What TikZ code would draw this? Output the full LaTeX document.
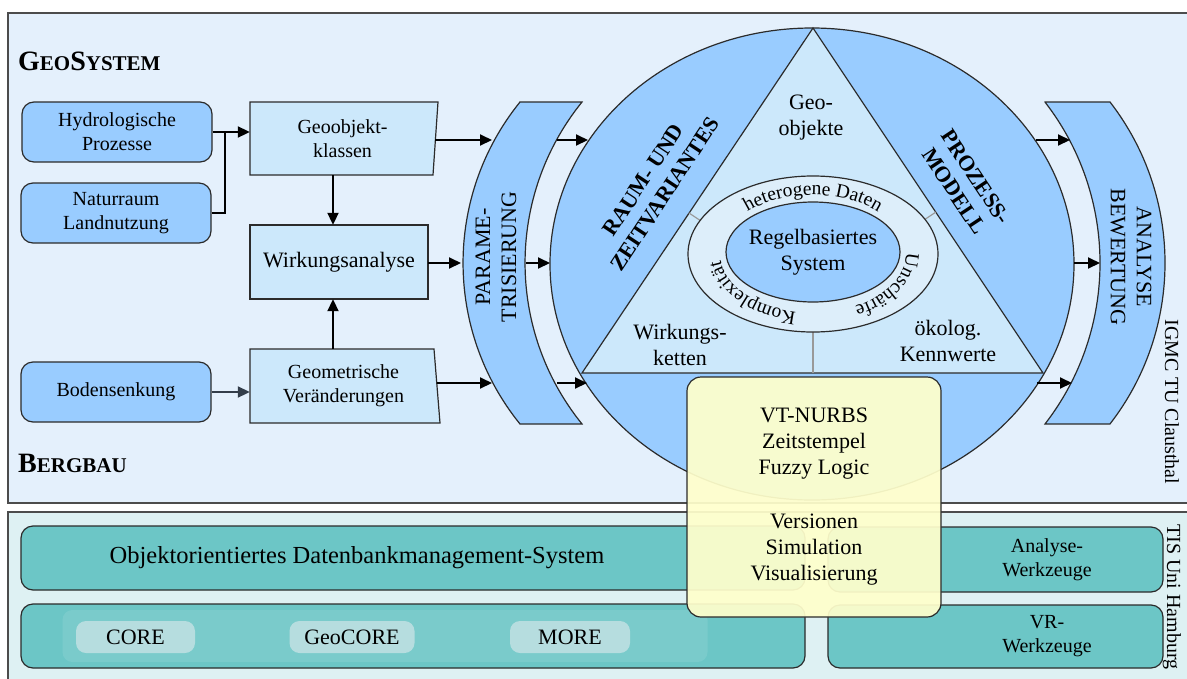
\documentclass[tikz,border=0pt]{standalone}
\usepackage{fontspec}
\setmainfont{Liberation Serif}
\usetikzlibrary{arrows.meta,calc,shapes.geometric,decorations.text}

\definecolor{panelblue}{HTML}{E4F0FC}
\definecolor{panelcyan}{HTML}{DEF1F3}
\definecolor{midblue}{HTML}{99CCFF}
\definecolor{lightblue}{HTML}{CCE8FB}
\definecolor{ringblue}{HTML}{DDEEFA}
\definecolor{dbteal}{HTML}{6CC6C6}
\definecolor{pillteal}{HTML}{B6DDDF}
\definecolor{noteyellow}{HTML}{FFFFCC}
\definecolor{edgegray}{HTML}{2B2B2B}
\definecolor{slate}{HTML}{333D4A}

\newcommand\fsA{\fontsize{20}{24}\selectfont}
\newcommand\fsB{\fontsize{22}{26}\selectfont}
\newcommand\fsC{\fontsize{24.5}{29}\selectfont}
\newcommand\ringfont{\fontsize{19.5}{22}\selectfont}
\newcommand\initcap[1]{{\fontsize{28}{32}\selectfont #1}}

\begin{document}
\begin{tikzpicture}[x=1pt,y=1pt,
  srcbox/.style={draw=edgegray, line width=1.2pt, fill=midblue, rounded corners=12pt,
    minimum width=190pt, minimum height=60pt, align=center, font=\fsA},
  procbg/.style={draw=edgegray, line width=1.2pt, fill=lightblue},
  bandbg/.style={draw=edgegray, line width=1.2pt, fill=midblue},
  proctext/.style={align=center, font=\fsA, inner sep=0pt},
  dbbox/.style={draw=edgegray, line width=1.2pt, fill=dbteal, rounded corners=12pt},
  pill/.style={fill=pillteal, rounded corners=10pt, minimum width=120pt, minimum height=32pt, font=\fsB},
  arr/.style={-{Triangle[length=12pt,width=11pt]}, line width=2pt},
  divline/.style={draw=gray!80, line width=1.2pt},
  ringtext/.style={decorate, decoration={text along path, text align=center, text={|\ringfont|#1}}}
]
\useasboundingbox (0,0) rectangle (1187,-678);
\clip (0,0) rectangle (1187,-678);

% Panels
\draw[draw=gray!60!black, line width=1.5pt, fill=panelblue] (8,-13) rectangle (1200,-503);
\draw[draw=gray!60!black, line width=1.5pt, fill=panelcyan] (8,-512) rectangle (1200,-700);

\node[anchor=base west, inner sep=0pt, font=\bfseries\fontsize{21}{25}\selectfont] (geosys) at (18,-70) {\initcap{G}EO\initcap{S}YSTEM};
\node[anchor=base west, inner sep=0pt, font=\bfseries\fontsize{21}{25}\selectfont] (bergbau) at (18,-472) {\initcap{B}ERGBAU};

% Input processes
\node[srcbox] (hyd) at (117,-132) {Hydrologische\\Prozesse};
\node[srcbox] (nat) at (116,-213) {Naturraum\\Landnutzung};
\node[srcbox] (bod) at (116,-392) {Bodensenkung};

% Processing boxes
\filldraw[procbg] (250,-102) -- (438,-102) -- (433,-175) -- (250,-175) -- cycle;
\filldraw[procbg] (250,-225) rectangle (428,-299);
\filldraw[procbg] (250,-349) -- (434,-349) -- (440,-423) -- (250,-423) -- cycle;
\node[proctext, minimum width=185pt, minimum height=73pt] (geo) at (342.5,-138.5) {Geoobjekt-\\klassen};
\node[proctext, font=\fsB, minimum width=178pt, minimum height=74pt] (wirk) at (339,-262) {Wirkungsanalyse};
\node[proctext, minimum width=187pt, minimum height=74pt] (geom) at (343.5,-386) {Geometrische\\Veränderungen};

\coordinate (jn) at (225,-132);
\draw[arr] (hyd.east) -- (hyd.east -| geo.west);
\draw[line width=2pt] (nat.east) -| (jn);
\draw[arr, slate] (bod.east) -- (bod.east -| geom.west);
\draw[arr] ([xshift=-9.5pt]geo.south) -- ([xshift=-6pt]wirk.north);
\draw[arr] ([xshift=-10.5pt]geom.north) -- ([xshift=-6pt]wirk.south);

% Parametrisation band
\filldraw[bandbg] (520,-102) -- (582,-102) arc[start angle=141.03, end angle=218.97, radius=256]
  -- (520,-424) arc[start angle=218.97, end angle=141.03, radius=256] -- cycle;
\node[rotate=90, font=\fsB, align=center] (param) at (496,-257) {PARAME-\\TRISIERUNG};

% Evaluation band
\filldraw[bandbg] (1045,-102) -- (1110,-102) arc[start angle=37.74, end angle=-37.74, radius=263]
  -- (1045,-424) arc[start angle=-37.74, end angle=37.74, radius=263] -- cycle;
\node[rotate=-90, font=\fsB, align=center] (analyse) at (1131,-257) {ANALYSE\\BEWERTUNG};

% Central model
\node[ellipse, draw=edgegray, line width=1.2pt, fill=midblue, minimum width=524pt, minimum height=472pt] (model) at (812,-264) {};
\filldraw[procbg] (813,-28) -- (582,-373) -- (1043,-373) -- cycle;
\draw[divline] (689,-213) -- (722,-235);
\draw[divline] (936,-212) -- (903,-234);
\draw[divline] (813,-373) -- (813,-320);
\node[ellipse, draw=edgegray, line width=1.2pt, fill=ringblue, minimum width=250pt, minimum height=156pt] (ring) at (813,-254) {};
\node[ellipse, draw=edgegray, line width=1.2pt, fill=midblue, minimum width=174pt, minimum height=100pt] (regel) at (813,-252) {};
\node[proctext, font=\fsB] (regeltxt) at (regel.center) {Regelbasiertes\\System};

\path[ringtext={heterogene Daten}] ($(ring.center)+(160:93 and 59)$) arc[start angle=160, end angle=20, x radius=93, y radius=59];
\path[ringtext={Unschärfe}] ($(ring.center)+(14:93 and 59)$) arc[start angle=14, end angle=-72, x radius=93, y radius=59];
\path[ringtext={Komplexität}] ($(ring.center)+(-88:93 and 59)$) arc[start angle=-88, end angle=-193, x radius=93, y radius=59];

\node[proctext, font=\fsB] (geoobj) at (811,-118) {Geo-\\objekte};
\node[proctext, font=\fsB] (wketten) at (680,-345) {Wirkungs-\\ketten};
\node[proctext, font=\fsB] (oekolog) at (948,-341) {ökolog.\\Kennwerte};
\node[font=\bfseries\fsB, align=center, rotate=56.5] (raum) at (654,-187) {RAUM- UND\\ZEITVARIANTES};
\node[font=\bfseries\fsB, align=center, rotate=-56.5] (prozess) at (965,-184) {PROZESS-\\MODELL};

% Arrows into and out of the model
\coordinate (pa1) at (492,-140);
\coordinate (pa2) at (461,-263);
\coordinate (pa3) at (492,-383);
\draw[arr] (geo.east |- pa1) -- (pa1);
\draw[arr] (wirk.east |- pa2) -- (pa2);
\draw[arr] (geom.east |- pa3) -- (pa3);

\coordinate (pb1) at (557,-140); \coordinate (pc1) at (588,-140);
\coordinate (pb2) at (526,-263); \coordinate (pc2) at (550,-263);
\coordinate (pb3) at (557,-383); \coordinate (pc3) at (587,-383);
\draw[arr] (pb1) -- (pc1);
\draw[arr] (pb2) -- (pc2);
\draw[arr] (pb3) -- (pc3);

\coordinate (pd1) at (1036,-140); \coordinate (pe1) at (1070,-140);
\coordinate (pd2) at (1074,-263); \coordinate (pe2) at (1100,-263);
\coordinate (pd3) at (1037,-383); \coordinate (pe3) at (1072,-383);
\draw[arr] (pd1) -- (pe1);
\draw[arr] (pd2) -- (pe2);
\draw[arr] (pd3) -- (pe3);

% Database layer
\node[dbbox, minimum width=784pt, minimum height=64pt] (dbms) at (413,-558) {};
\node[font=\fsC] (dbmstxt) at (357,-558) {Objektorientiertes Datenbankmanagement-System};
\node[dbbox, minimum width=784pt, minimum height=64pt] (dbcore) at (413,-636) {};
\node[fill=white, fill opacity=0.1, rounded corners=10pt, minimum width=645pt, minimum height=52pt] (pillgrp) at (385,-636) {};
\node[pill, minimum width=119pt] (core) at (135.5,-637) {CORE};
\node[pill, minimum width=125pt] (geocore) at (352,-637) {GeoCORE};
\node[pill] (more) at (570,-637) {MORE};
\node[dbbox, minimum width=335pt, minimum height=65pt] (anawz) at (995.5,-559.5) {};
\node[proctext] (anatxt) at (1047,-559.5) {Analyse-\\Werkzeuge};
\node[dbbox, minimum width=335pt, minimum height=63pt] (vrwz) at (995.5,-636.5) {};
\node[proctext] (vrtxt) at (1047,-636.5) {VR-\\Werkzeuge};

% Note
\node[draw=edgegray, line width=1.2pt, fill=noteyellow, fill opacity=0.93, text opacity=1,
  rounded corners=14pt, minimum width=254pt, minimum height=240pt, align=center, font=\fsB]
  (note) at (814,-497) {VT-NURBS\\Zeitstempel\\Fuzzy Logic\\[28pt]Versionen\\Simulation\\Visualisierung};

\node[rotate=-90, font=\fsA] (igmc) at (1172,-402) {IGMC TU Clausthal};
\node[rotate=-90, font=\fsA] (tis) at (1172,-597) {TIS Uni Hamburg};
\end{tikzpicture}
\end{document}
